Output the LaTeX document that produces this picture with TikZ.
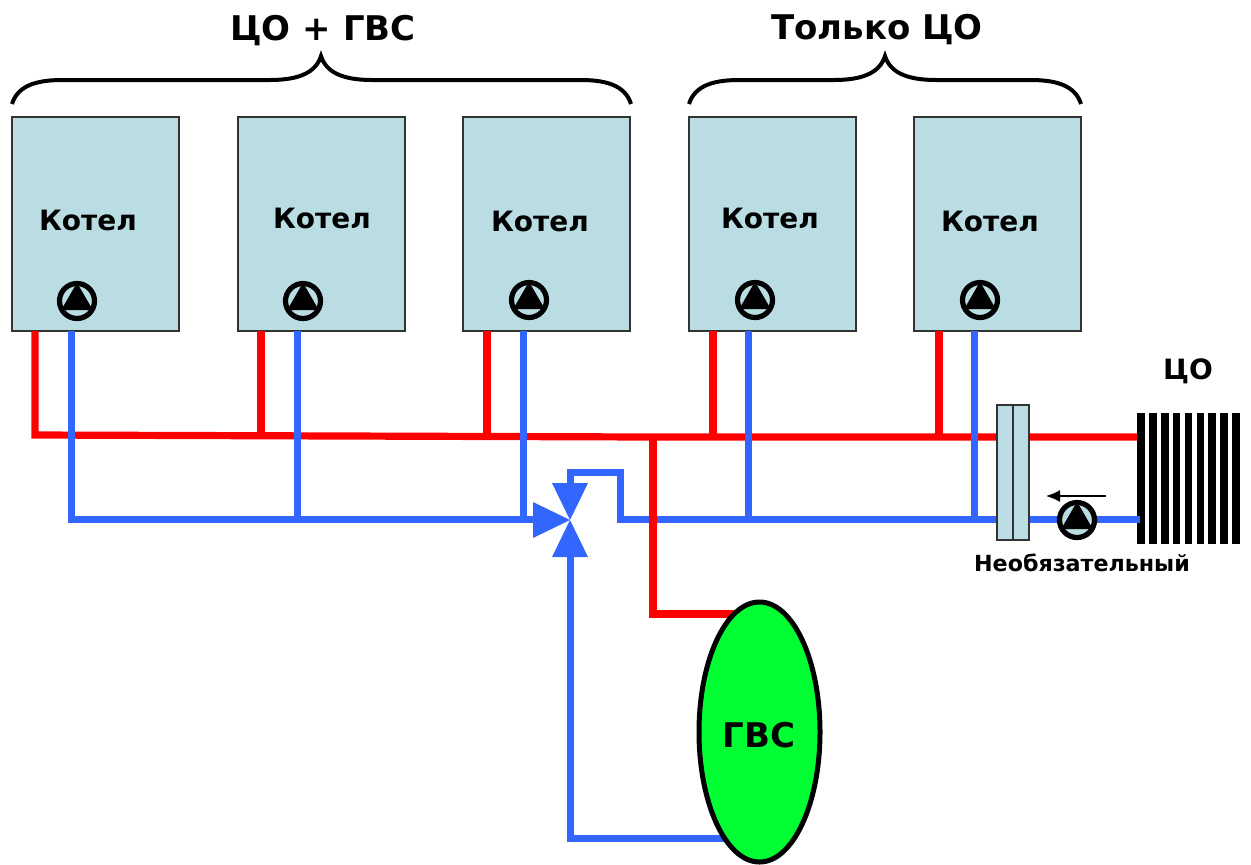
\documentclass[tikz,border=0pt]{standalone}
\usepackage{fontspec}
\setmainfont{DejaVu Sans}
\usetikzlibrary{shapes.geometric,arrows.meta}
\definecolor{boxfill}{HTML}{B9DDE2}
\definecolor{pipered}{HTML}{FF0000}
\definecolor{pipeblue}{HTML}{3366FF}
\definecolor{tankgreen}{HTML}{00FF33}
\tikzset{
  boiler/.style={draw=black!80,fill=boxfill,line width=1pt,minimum width=83.5pt,minimum height=107pt,inner sep=0pt},
  pump/.style={circle,draw=black,fill=boxfill,line width=2.6pt,minimum size=17.5pt,inner sep=0pt},
  pumptri/.style={regular polygon,regular polygon sides=3,fill=black,draw=black,line width=.4pt,line join=round,minimum size=17.5pt,inner sep=0pt},
  redpipe/.style={draw=pipered,line width=3.6pt,line join=miter},
  bluepipe/.style={draw=pipeblue,line width=3.5pt,line join=miter},
  label/.style={font=\bfseries\fontsize{14}{16}\selectfont,inner sep=0pt},
  biglabel/.style={font=\bfseries\fontsize{17}{19}\selectfont,inner sep=0pt},
  brace/.style={draw=black,line width=2pt},
  rib/.style={fill=black,minimum width=3.8pt,minimum height=65.5pt,inner sep=0pt},
  valvetip/.style={fill=pipeblue}
}
\begin{document}
\begin{tikzpicture}[x=.5pt,y=-.5pt,>={Latex[length=7pt,width=6pt]}]
\useasboundingbox (0,0) rectangle (1251,864);
% pipes first, boxes go on top
\coordinate (r0) at (35,331);
\coordinate (r1) at (35,435);
\coordinate (r2) at (653,437);
\coordinate (r3) at (1137,437);
\coordinate (r4) at (653,614);
\coordinate (b0) at (71,331);
\coordinate (b1) at (71,519);
\coordinate (b2) at (540,519);
\coordinate (b3) at (620,519);
\coordinate (b4) at (620,472);
\coordinate (b5) at (570,472);
\coordinate (b6) at (570,490);
\coordinate (b7) at (1140,519);
\coordinate (b8) at (570,550);
\coordinate (b9) at (570,838);
\node[boiler] (k1) at (95.5,224) {};
\node[boiler] (k2) at (321.5,224) {};
\node[boiler] (k3) at (546.5,224) {};
\node[boiler] (k4) at (772.5,224) {};
\node[boiler] (k5) at (997.5,224) {};
\node[label] (t1) at (88,220) {Котел};
\node[label] (t2) at (322,218) {Котел};
\node[label] (t3) at (540,221) {Котел};
\node[label] (t4) at (770,218) {Котел};
\node[label] (t5) at (990,221) {Котел};
\node[pump] (p1) at (77,301) {}; \node[pumptri] at (p1) {};
\node[pump] (p2) at (303,301) {}; \node[pumptri] at (p2) {};
\node[pump] (p3) at (529,300) {}; \node[pumptri] at (p3) {};
\node[pump] (p4) at (755,300) {}; \node[pumptri] at (p4) {};
\node[pump] (p5) at (980,300) {}; \node[pumptri] at (p5) {};
% radiator
\foreach \i in {0,...,8}
  \node[rib] (rib\i) at ({1141+11.87*\i},478.5) {};
\draw[redpipe] (r0) -- (r1) -- (r2) -- (r3);
\draw[redpipe] (261,331) -- (261,436);
\draw[redpipe] (487,331) -- (487,437);
\draw[redpipe] (713,331) -- (713,437);
\draw[redpipe] (939,331) -- (939,437);
\draw[bluepipe] (b0) -- (b1) -- (b2);
\draw[bluepipe] (297,331) -- (297,519);
\draw[bluepipe] (523,331) -- (523,519);
\draw[bluepipe] (748,331) -- (748,519);
\draw[bluepipe] (974,331) -- (974,519);
\draw[bluepipe] (b6) -- (b5) -- (b4) -- (b3) -- (b7);
\draw[redpipe] (r2) -- (r4) -- (740,614);
\draw[bluepipe] (b8) -- (b9) -- (730,838);
% valve
\fill[valvetip] (533,502) -- (570,520) -- (533,538) -- cycle;
\fill[valvetip] (552,483) -- (588,483) -- (570,520) -- cycle;
\fill[valvetip] (552,557) -- (588,557) -- (570,520) -- cycle;
\node[ellipse,draw=black,fill=tankgreen,line width=2.5pt,minimum width=60.5pt,minimum height=130pt,inner sep=0pt] (tank) at (759.5,732) {};
\node[biglabel] (gvs) at (759,735) {ГВС};
% heat exchanger
\node[draw=black!80,fill=boxfill,line width=1pt,minimum width=16pt,minimum height=67.5pt,inner sep=0pt] (hx) at (1013,472) {};
\draw[black!80,line width=1pt] (hx.north) -- (hx.south);
\node[pump] (p6) at (1077,520) {}; \node[pumptri] at (p6) {};
\draw[<-,line width=.8pt] (1046,496) -- (1106,496);
\node[font=\bfseries\fontsize{11.1}{13}\selectfont,inner sep=0pt] (opt) at (1082,563) {Необязательный};
\node[font=\bfseries\fontsize{14}{16}\selectfont,inner sep=0pt] (co) at (1188,371) {ЦО};
\node[biglabel] (top1) at (323,31) {ЦО + ГВС};
\node[biglabel] (top2) at (877,30) {Только ЦО};
\draw[brace] (12,104) .. controls (17,88) and (32,80) .. (62,80) -- (270,80) .. controls (300,80) and (316,72) .. (321,56) .. controls (326,72) and (342,80) .. (372,80) -- (581,80) .. controls (611,80) and (626,88) .. (631,104);
\draw[brace] (689,104) .. controls (694,88) and (709,80) .. (739,80) -- (834,80) .. controls (864,80) and (880,72) .. (885,56) .. controls (890,72) and (906,80) .. (936,80) -- (1031,80) .. controls (1061,80) and (1076,88) .. (1081,104);
\end{tikzpicture}
\end{document}
